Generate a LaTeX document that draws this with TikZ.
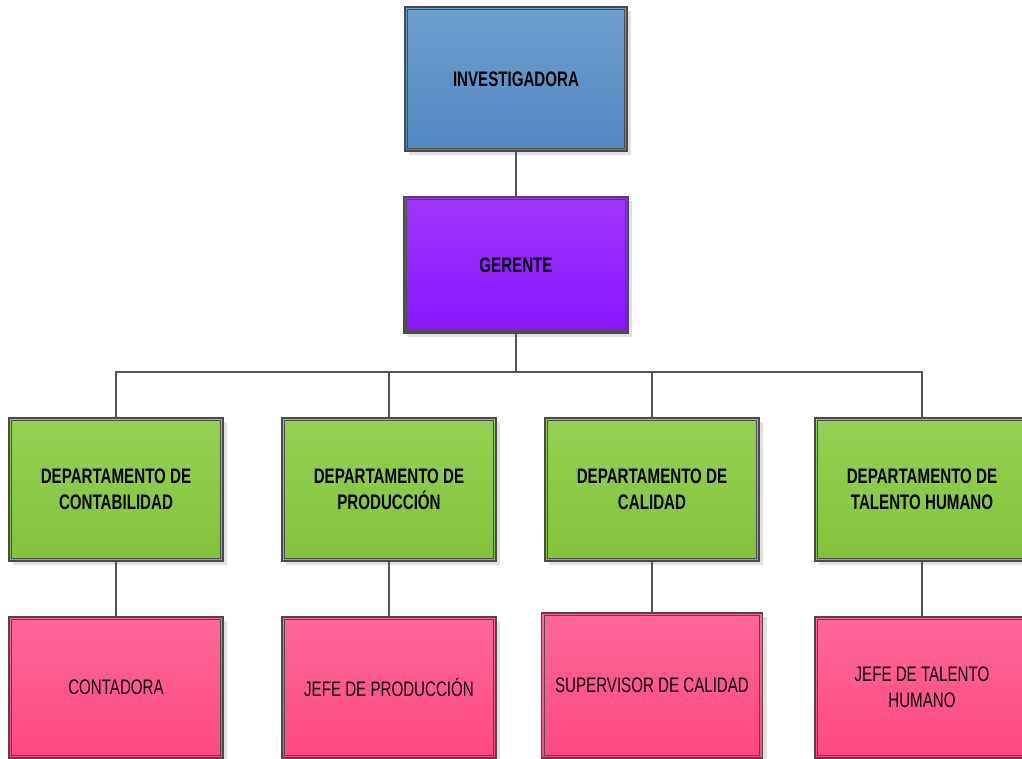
\documentclass[tikz,border=0pt]{standalone}
\usepackage{fontspec}
\newfontfamily\narrowfont[FakeStretch=0.72]{Liberation Sans}
\usetikzlibrary{shadows}

\definecolor{edgegray}{HTML}{4A4A4A}
\definecolor{linkgray}{HTML}{555555}
\definecolor{blueTop}{RGB}{110,160,206}
\definecolor{blueBot}{RGB}{80,136,192}
\definecolor{purpTop}{RGB}{158,54,255}
\definecolor{purpBot}{RGB}{136,22,255}
\definecolor{greenTop}{RGB}{148,209,84}
\definecolor{greenBot}{RGB}{128,196,58}
\definecolor{pinkTop}{RGB}{255,104,152}
\definecolor{pinkBot}{RGB}{255,72,130}

\tikzset{
  orgbox/.style={rectangle, draw=edgegray, line width=1.3pt, inner sep=0pt,
    align=center, text=black,
    font=\narrowfont\fontsize{21}{26}\selectfont,
    drop shadow={shadow xshift=4pt, shadow yshift=-4pt, fill=black!12, opacity=1}},
  boldbox/.style={orgbox, font=\narrowfont\bfseries\fontsize{21}{26}\selectfont},
  bluebox/.style={boldbox, top color=blueTop, bottom color=blueBot},
  purplebox/.style={boldbox, top color=purpTop, bottom color=purpBot},
  greenbox/.style={boldbox, top color=greenTop, bottom color=greenBot,
    minimum width=214pt, minimum height=143pt},
  pinkbox/.style={orgbox, top color=pinkTop, bottom color=pinkBot,
    minimum width=214pt, minimum height=141pt},
  innerline/.style={draw=edgegray, line width=0.9pt},
  link/.style={draw=linkgray, line width=1.3pt}
}

% inset second frame inside a box
\newcommand{\innerframe}[1]{%
  \draw[innerline] ([shift={(3.5pt,-3.5pt)}]#1.north west) rectangle ([shift={(-3.5pt,3.5pt)}]#1.south east);}

\begin{document}
\begin{tikzpicture}[x=1pt, y=-1pt]
\useasboundingbox (0,0) rectangle (1022,758);
\clip (0,0) rectangle (1022,758);

% top of the chart
\node[bluebox, minimum width=222pt, minimum height=144pt] (inv) at (516,79) {INVESTIGADORA};
\node[purplebox, minimum width=224pt, minimum height=136pt] (ger) at (516,265) {GERENTE};

% departments
\node[greenbox] (d1) at (116,489.5) {DEPARTAMENTO DE\\CONTABILIDAD};
\node[greenbox] (d2) at (389,489.5) {DEPARTAMENTO DE\\PRODUCCIÓN};
\node[greenbox] (d3) at (652,489.5) {DEPARTAMENTO DE\\CALIDAD};
\node[greenbox] (d4) at (922,489.5) {DEPARTAMENTO DE\\TALENTO HUMANO};

% positions
\node[pinkbox] (p1) at (116,687.5) {CONTADORA};
\node[pinkbox] (p2) at (389,687.5) {JEFE DE PRODUCCIÓN};
\node[pinkbox, minimum width=221pt, minimum height=145pt] (p3) at (652,685.5) {SUPERVISOR DE CALIDAD};
\node[pinkbox] (p4) at (922,687.5) {JEFE DE TALENTO\\HUMANO};

\foreach \b in {inv,ger,d1,d2,d3,d4,p1,p2,p3,p4} {\innerframe{\b}}

% connectors
\coordinate (hub) at (516,372);
\draw[link] (inv.south) -- (ger.north);
\draw[link] (ger.south) -- (hub);
\draw[link] (d1.north) |- (hub) -| (d4.north);
\draw[link] (d2.north) -- (d2.north |- hub);
\draw[link] (d3.north) -- (d3.north |- hub);
\draw[link] (d1.south) -- (p1.north);
\draw[link] (d2.south) -- (p2.north);
\draw[link] (d3.south) -- (p3.north);
\draw[link] (d4.south) -- (p4.north);
\end{tikzpicture}
\end{document}
